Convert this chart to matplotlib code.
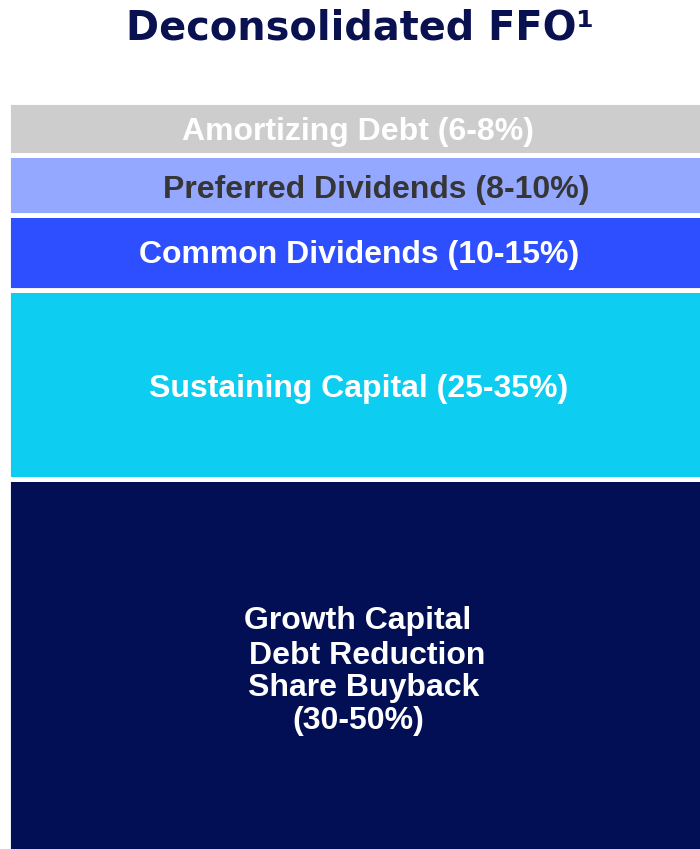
import matplotlib
matplotlib.use('Agg')
import matplotlib.pyplot as plt

# segments from bottom to top (heights in chart units)
labels = [
    ['Growth Capital', 'Debt Reduction', 'Share Buyback', '(30-50%)'],
    ['Sustaining Capital (25-35%)'],
    ['Common Dividends (10-15%)'],
    ['Preferred Dividends (8-10%)'],
    ['Amortizing Debt (6-8%)'],
]
heights = [371.8, 189.2, 75.3, 60.2, 52.5]
colors = ['#020F55', '#0DCEF0', '#2D4FFF', '#95A8FF', '#CDCDCD']
text_colors = ['white', 'white', 'white', '#363636', 'white']

W, H = 700, 849
fig = plt.figure(figsize=(W / 100, H / 100), dpi=100)
ax = fig.add_axes([0, 0, 1, 1])
ax.set_xlim(0, W)
ax.set_ylim(0, H)
ax.axis('off')

FONT = 'Liberation Sans'

# stacked single bar, white edges give the gaps
bottom = -2.0
for h, c in zip(heights, colors):
    ax.bar(7.6, h, width=720, bottom=bottom, align='edge', color=c,
           edgecolor='white', linewidth=3.5, zorder=2)
    bottom += h

# label baselines / x-centres in pixels from top (layout only)
text_pos = [
    [(358, 629), (367, 664), (364, 696), (358, 729)],
    [(359, 397)],
    [(359, 263)],
    [(376, 198)],
    [(358, 140)],
]
for lines, tc, pos in zip(labels, text_colors, text_pos):
    for line, (x, ytop) in zip(lines, pos):
        ax.text(x, H - ytop, line, ha='center', va='baseline', fontsize=23,
                fontweight='bold', color=tc, family=FONT, zorder=3)

ax.text(360, H - 39.5, 'Deconsolidated FFO\u00b9', ha='center', va='baseline',
        fontsize=28.7, fontweight='bold', color='#0A1150', family='DejaVu Sans')

fig.savefig('out.png', dpi=100, facecolor='white')
